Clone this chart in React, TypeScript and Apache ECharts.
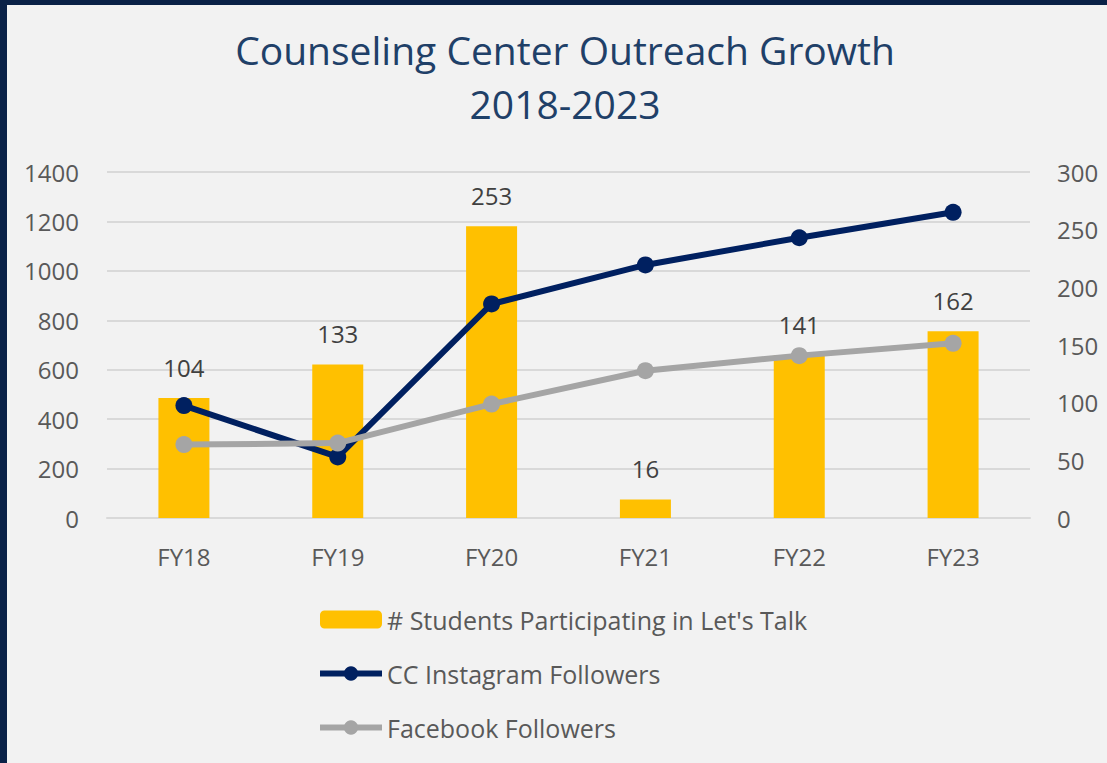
import React, { useEffect, useRef } from "react";
import * as echarts from "echarts";

const categories = ["FY18", "FY19", "FY20", "FY21", "FY22", "FY23"];
const letsTalk = [104, 133, 253, 16, 141, 162];
const instagram = [455, 247, 866, 1024, 1134, 1237];
const facebook = [297, 303, 461, 596, 657, 707];

const FONT = "'Open Sans', 'Noto Sans', sans-serif";
const LABEL_COLOR = "#595959";

export default function App() {
  const ref = useRef<HTMLDivElement>(null);
  useEffect(() => {
    document.body.style.margin = "0";
    const chart = echarts.init(ref.current!, null, { renderer: "svg" });
    chart.setOption({
      animation: false,
      backgroundColor: "#f2f2f2",
      textStyle: { fontFamily: FONT },
      graphic: [
        { type: "rect", left: 0, top: 0, shape: { width: 1107, height: 5 }, style: { fill: "#0a2147" }, z: 100 },
        { type: "rect", left: 0, top: 0, shape: { width: 7, height: 763 }, style: { fill: "#0a2147" }, z: 100 },
      ],
      title: {
        text: "Counseling Center Outreach Growth\n2018-2023",
        left: 560,
        top: 17,
        textAlign: "center",
        textStyle: {
          fontFamily: FONT,
          fontSize: 39,
          fontWeight: "normal",
          color: "#1F4068",
          lineHeight: 54,
        },
      },
      legend: {
        orient: "vertical",
        left: 312,
        top: 602,
        itemWidth: 62,
        itemHeight: 18,
        itemGap: 29,
        textStyle: { fontFamily: FONT, fontSize: 25, color: LABEL_COLOR },
        data: [
          { name: "# Students Participating in Let's Talk" },
          { name: "CC Instagram Followers", lineStyle: { width: 6 } },
          { name: "Facebook Followers", lineStyle: { width: 6 } },
        ],
      },
      grid: { left: 107, right: 77, top: 172, bottom: 245 },
      xAxis: {
        type: "category",
        data: categories,
        axisTick: { show: false },
        axisLine: { show: true, lineStyle: { color: "#d9d9d9", width: 2 } },
        axisLabel: { color: LABEL_COLOR, fontSize: 24, fontFamily: FONT, margin: 26 },
      },
      yAxis: [
        {
          type: "value",
          min: 0,
          max: 1400,
          interval: 200,
          axisLine: { show: false },
          axisTick: { show: false },
          splitLine: { lineStyle: { color: "#d9d9d9", width: 2 } },
          axisLabel: {
            color: LABEL_COLOR,
            fontSize: 24,
            fontFamily: FONT,
            margin: 28,
            formatter: (v: number) => String(v),
          },
        },
        {
          type: "value",
          min: 0,
          max: 300,
          interval: 50,
          axisLine: { show: false },
          axisTick: { show: false },
          splitLine: { show: false },
          axisLabel: {
            color: LABEL_COLOR,
            fontSize: 24,
            fontFamily: FONT,
            margin: 27,
            formatter: (v: number) => String(v),
          },
        },
      ],
      series: [
        {
          name: "# Students Participating in Let's Talk",
          type: "bar",
          yAxisIndex: 1,
          data: letsTalk,
          barWidth: 51,
          itemStyle: { color: "#FFC000" },
          label: {
            show: true,
            position: "top",
            distance: 19,
            color: "#404040",
            fontSize: 24,
            fontFamily: FONT,
          },
        },
        {
          name: "CC Instagram Followers",
          type: "line",
          yAxisIndex: 0,
          data: instagram,
          symbol: "circle",
          symbolSize: 17,
          lineStyle: { color: "#002060", width: 6 },
          itemStyle: { color: "#002060" },
        },
        {
          name: "Facebook Followers",
          type: "line",
          yAxisIndex: 0,
          data: facebook,
          symbol: "circle",
          symbolSize: 17,
          lineStyle: { color: "#A5A5A5", width: 6 },
          itemStyle: { color: "#A5A5A5" },
        },
      ],
    });
    return () => chart.dispose();
  }, []);
  return <div ref={ref} style={{ width: 1107, height: 763 }} />;
}
